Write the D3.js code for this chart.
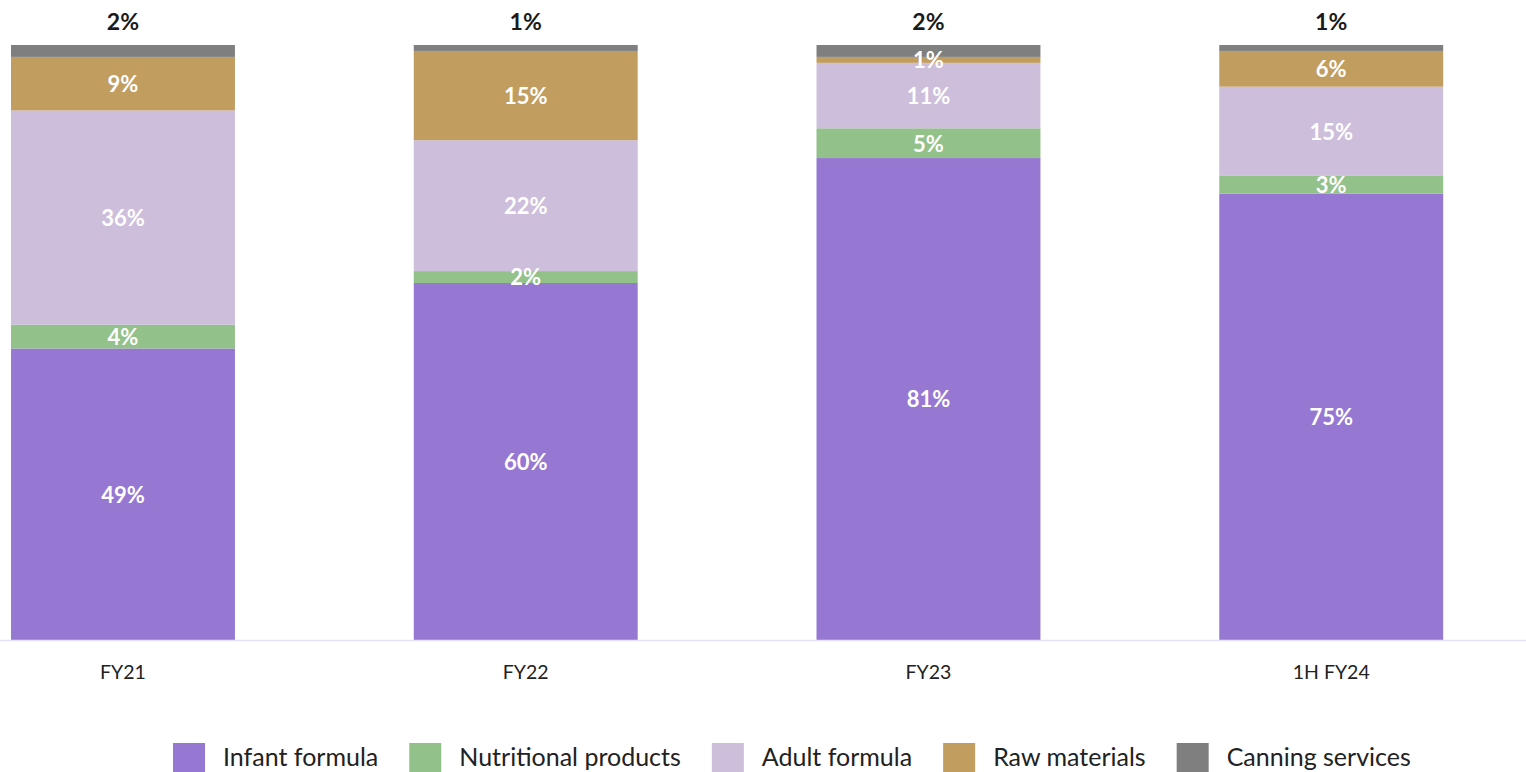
<!DOCTYPE html>
<html>
<head>
<meta charset="utf-8">
<script src="https://cdn.jsdelivr.net/npm/d3@7"></script>
<style>
  html, body { margin: 0; padding: 0; background: #ffffff; }
  svg { display: block; font-family: Lato, "Open Sans", sans-serif; }
</style>
</head>
<body>
<svg id="chart" width="1526" height="772"></svg>
<script>
// ---- Data ----
const categories = ["FY21", "FY22", "FY23", "1H FY24"];
const seriesNames = ["Infant formula", "Nutritional products", "Adult formula", "Raw materials", "Canning services"];
const infantFormula = [49, 60, 81, 75];
const nutritionalProducts = [4, 2, 5, 3];
const adultFormula = [36, 22, 11, 15];
const rawMaterials = [9, 15, 1, 6];
const canningServices = [2, 1, 2, 1];
const seriesColors = ["#9678D3", "#93C18A", "#CDBEDB", "#C19D5F", "#7F7F7F"];

const seriesValues = [infantFormula, nutritionalProducts, adultFormula, rawMaterials, canningServices];
const table = categories.map((c, i) => {
  const row = { category: c };
  seriesNames.forEach((s, j) => { row[s] = seriesValues[j][i]; });
  return row;
});

const svg = d3.select("#chart");
const W = 1526;

const x = d3.scaleBand()
  .domain(categories)
  .range([-78.4, 1532.6])
  .paddingInner(0.444)
  .paddingOuter(0.222);

const y = d3.scaleLinear().domain([0, 100]).range([640, 45]);

const stack = d3.stack().keys(seriesNames);
const stacked = stack(table);

// bars
const layers = svg.append("g").selectAll("g")
  .data(stacked)
  .join("g")
  .attr("fill", (d, i) => seriesColors[i]);

layers.selectAll("rect")
  .data(d => d)
  .join("rect")
  .attr("x", d => x(d.data.category))
  .attr("width", x.bandwidth())
  .attr("y", d => y(d[1]))
  .attr("height", d => y(d[0]) - y(d[1]));

// axis baseline
svg.append("line")
  .attr("x1", 0).attr("x2", W)
  .attr("y1", 640.5).attr("y2", 640.5)
  .attr("stroke", "#E6E1F5")
  .attr("stroke-width", 1.6);

// category axis labels
const xAxis = d3.axisBottom(x).tickSize(0).tickPadding(0);
const axisG = svg.append("g").attr("transform", "translate(0,640)").call(xAxis);
axisG.select(".domain").remove();
axisG.selectAll("text")
  .attr("y", 39)
  .attr("dy", 0)
  .attr("font-family", "Lato, 'Open Sans', sans-serif")
  .attr("font-size", 19.5)
  .attr("fill", "#222");

// value labels
const labelsG = svg.append("g");
stacked.forEach((layer, li) => {
  const isTop = li === stacked.length - 1;
  layer.forEach(d => {
    const v = d.data[layer.key];
    const cx = x(d.data.category) + x.bandwidth() / 2;
    if (isTop) {
      labelsG.append("text")
        .attr("x", cx)
        .attr("y", 30)
        .attr("text-anchor", "middle")
        .attr("font-size", 23)
        .attr("font-weight", 700)
        .attr("fill", "#1a1a1a")
        .text(v + "%");
    } else {
      labelsG.append("text")
        .attr("x", cx)
        .attr("y", (y(d[0]) + y(d[1])) / 2)
        .attr("dy", "0.38em")
        .attr("text-anchor", "middle")
        .attr("font-size", 22)
        .attr("font-weight", 700)
        .attr("fill", "#ffffff")
        .text(v + "%");
    }
  });
});

// legend
const legend = svg.append("g");
let lx = 173;
seriesNames.forEach((name, i) => {
  legend.append("rect")
    .attr("x", lx).attr("y", 743)
    .attr("width", 32).attr("height", 32)
    .attr("fill", seriesColors[i]);
  const t = legend.append("text")
    .attr("x", lx + 50).attr("y", 766)
    .attr("font-size", 25)
    .attr("fill", "#222")
    .text(name);
  lx += 50 + t.node().getComputedTextLength() + 31;
});
</script>
</body>
</html>
